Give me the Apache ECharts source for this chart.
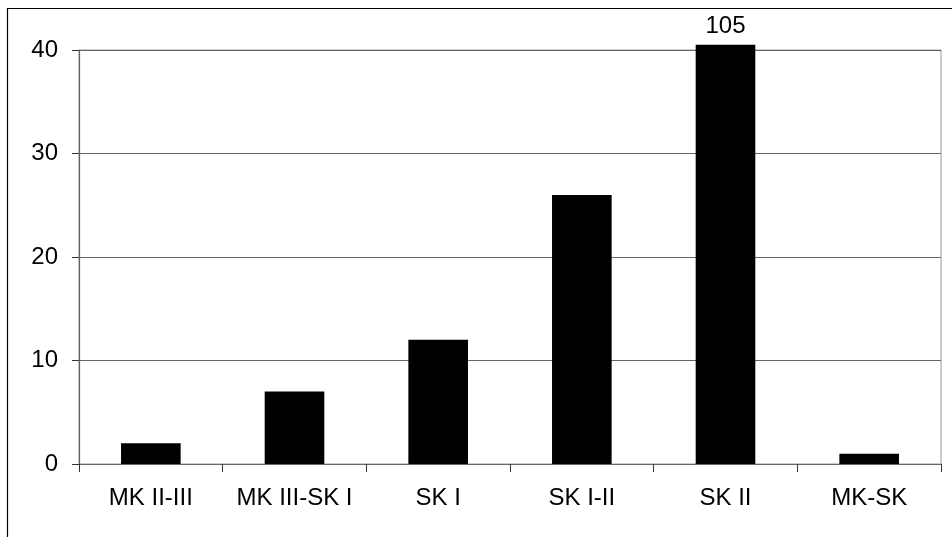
<!DOCTYPE html>
<html>
<head>
<meta charset="utf-8">
<script src="https://cdn.jsdelivr.net/npm/echarts@6/dist/echarts.min.js"></script>
<style>
html,body{margin:0;padding:0;background:#fff;}
#chart{width:952px;height:537px;}
</style>
</head>
<body>
<div id="chart"></div>
<script>
const categories = ["MK II-III", "MK III-SK I", "SK I", "SK I-II", "SK II", "MK-SK"];
const values = [2, 7, 12, 26, 105, 1];
const yTicks = [0, 10, 20, 30, 40];
const axisMax = 40;
const barCap = 40.5;

const chart = echarts.init(document.getElementById('chart'), null, {renderer: 'canvas'});
const font = '"Liberation Sans", Arial, sans-serif';

const data = values.map(v => ({
  value: Math.min(v, barCap),
  label: { show: v > barCap, formatter: String(v) }
}));

chart.setOption({
  animation: false,
  backgroundColor: '#fff',
  grid: { left: 79, right: 11, top: 50, bottom: 73, show: true, borderColor: '#999', borderWidth: 1, backgroundColor: 'transparent' },
  graphic: [{
    type: 'rect', silent: true,
    shape: { x: 7.5, y: 8.5, width: 2000, height: 2000 },
    style: { fill: 'none', stroke: '#000', lineWidth: 1.2 }
  }],
  xAxis: {
    type: 'category',
    data: categories,
    boundaryGap: true,
    axisLine: { show: true, lineStyle: { color: '#666', width: 1.2 } },
    axisTick: { show: true, interval: 0, alignWithLabel: false, length: 8, lineStyle: { color: '#333' } },
    axisLabel: { interval: 0, color: '#000', fontFamily: font, fontSize: 24, margin: 22 },
    splitLine: { show: false }
  },
  yAxis: {
    type: 'value',
    min: 0, max: axisMax, interval: 10,
    axisLine: { show: true, lineStyle: { color: '#666', width: 1.2 } },
    axisTick: { show: true, length: 7, lineStyle: { color: '#333' } },
    axisLabel: { color: '#000', fontFamily: font, fontSize: 24, margin: 21,
      formatter: v => yTicks.includes(v) ? String(v) : '' },
    splitLine: { show: true, lineStyle: { color: '#666', width: 1.2 } }
  },
  series: [{
    type: 'bar',
    data: data,
    barWidth: '41.5%',
    clip: false,
    itemStyle: { color: '#000' },
    label: { position: 'top', distance: 6, color: '#000', fontFamily: font, fontSize: 24 }
  }]
});
</script>
</body>
</html>
